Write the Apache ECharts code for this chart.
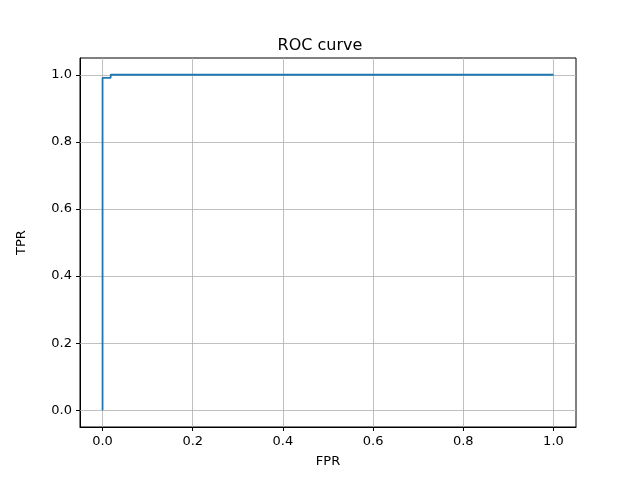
<!DOCTYPE html>
<html><head><meta charset="utf-8">
<script src="https://cdn.jsdelivr.net/npm/echarts@6/dist/echarts.min.js"></script>
<style>body{margin:0}#c{width:640px;height:480px}</style></head>
<body><div id="c"></div>
<script>
const fpr = [0, 0, 0.018, 0.018, 1];
const tpr = [0, 0.991, 0.991, 1, 1];
const ticks = [0, 0.2, 0.4, 0.6, 0.8, 1.0];
const font = 'DejaVu Sans';
const chart = echarts.init(document.getElementById('c'));
function axis(name, gap) {
  return {
    type: 'value', min: -0.05, max: 1.05, name: name, nameGap: gap,
    nameLocation: 'middle',
    nameTextStyle: {color: '#000', fontFamily: font, fontSize: 13},
    axisLine: {show: true, onZero: false, lineStyle: {color: '#000'}},
    axisTick: {show: true, length: 4, customValues: ticks, lineStyle: {color: '#000'}},
    axisLabel: {color: '#000', fontFamily: font, fontSize: 13, customValues: ticks,
      formatter: v => v.toFixed(1)},
    splitLine: {show: false}
  };
}
chart.setOption({
  animation: false,
  title: {text: 'ROC curve', left: 'center', top: 33,
    textStyle: {fontFamily: font, fontSize: 16, fontWeight: 'normal', color: '#000'}},
  grid: {left: 80, right: 64, top: 58, bottom: 53, show: true, borderColor: '#000', borderWidth: 1},
  xAxis: axis('FPR', 28),
  yAxis: axis('TPR', 52),
  series: [
    {type: 'line', data: [], z: 1, markLine: {silent: true, symbol: 'none', label: {show: false},
      lineStyle: {color: '#b0b0b0', width: 0.8, type: 'solid'},
      data: ticks.map(t => ({xAxis: t})).concat(ticks.map(t => ({yAxis: t})))}},
    {type: 'line', data: fpr.map((x, i) => [x, tpr[i]]), showSymbol: false, z: 5,
     lineStyle: {color: '#1f77b4', width: 1.8}}
  ]
});
</script></body></html>
